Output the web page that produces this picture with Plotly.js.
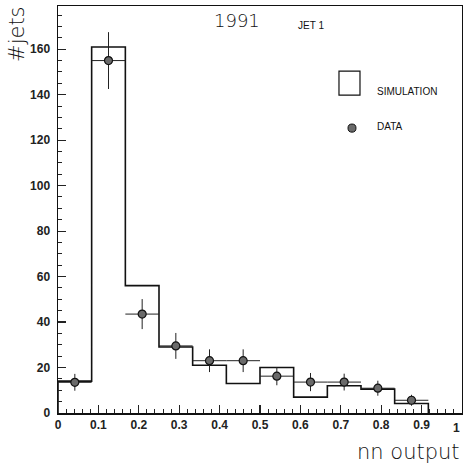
<!DOCTYPE html>
<html>
<head>
<meta charset="utf-8">
<script src="https://cdn.plot.ly/plotly-3.0.1.min.js"></script>
<style>html,body{margin:0;padding:0;background:#fff;}</style>
</head>
<body>
<div id="chart" style="width:463px;height:466px;"></div>
<script>
// Bin edges of the nn output histogram (width 1/12)
const binEdges = [0, 0.0833, 0.1667, 0.25, 0.3333, 0.4167, 0.5, 0.5833, 0.6667, 0.75, 0.8333, 0.9167];
// Simulation counts per bin
const simCounts = [14, 161, 56, 29, 21, 13, 20, 7, 12, 10.5, 4.2];
// Data counts per bin and their errors
const dataCounts = [13.5, 155, 43.5, 29.5, 23, 23, 16.2, 13.6, 13.6, 10.9, 5.6];
const dataErr = [3.7, 12.5, 6.6, 5.7, 5, 5, 4, 4, 3.7, 3.3, 2.4];
const xTickVals = [0, 0.1, 0.2, 0.3, 0.4, 0.5, 0.6, 0.7, 0.8, 0.9];
const xTickText = ["0", "0.1", "0.2", "0.3", "0.4", "0.5", "0.6", "0.7", "0.8", "0.9"];
const yTickVals = [0, 20, 40, 60, 80, 100, 120, 140, 160];

// step outline
const stepX = [binEdges[0]].concat(binEdges);
const stepY = [0].concat(simCounts).concat([0]);
const centers = simCounts.map((_, i) => (binEdges[i] + binEdges[i + 1]) / 2);
const halfW = simCounts.map((_, i) => (binEdges[i + 1] - binEdges[i]) / 2);

const traces = [
  {
    x: stepX, y: stepY, type: 'scatter', mode: 'lines',
    line: {shape: 'hv', color: '#111', width: 1.6},
    hoverinfo: 'skip', showlegend: false, cliponaxis: false
  },
  {
    x: centers, y: dataCounts, type: 'scatter', mode: 'markers',
    marker: {symbol: 'circle', size: 8, color: '#6a6a6a', line: {color: '#111', width: 1.2}},
    error_y: {type: 'data', array: dataErr, visible: true, color: '#222', thickness: 1, width: 0},
    error_x: {type: 'data', array: halfW, visible: true, color: '#222', thickness: 1, width: 0},
    showlegend: false
  }
];

const tickFont = {family: 'Liberation Sans, Arial, sans-serif', size: 12, color: '#222', weight: 'bold'};

const layout = {
  width: 463, height: 466,
  margin: {l: 58, r: 1, t: 6, b: 53},
  paper_bgcolor: '#fff', plot_bgcolor: '#fff',
  showlegend: false,
  xaxis: {
    range: [0, 1], showgrid: false, zeroline: false,
    showline: true, linecolor: '#111', linewidth: 1.5, mirror: true,
    ticks: 'inside', ticklen: 8, tickwidth: 1.2, tickcolor: '#222',
    tickvals: xTickVals, ticktext: xTickText, tickfont: tickFont, ticklabelstandoff: 0,
    minor: {dtick: 0.02, ticks: 'inside', ticklen: 4, tickwidth: 1, tickcolor: '#222', showgrid: false}
  },
  yaxis: {
    range: [0, 179], showgrid: false, zeroline: false,
    showline: true, linecolor: '#111', linewidth: 1.5, mirror: true,
    ticks: 'inside', ticklen: 8, tickwidth: 1.2, tickcolor: '#222',
    tickvals: yTickVals, tickfont: tickFont, ticklabelstandoff: 4,
    minor: {dtick: 5, ticks: 'inside', ticklen: 4, tickwidth: 1, tickcolor: '#222', showgrid: false}
  },
  shapes: [
    {type: 'rect', xref: 'paper', yref: 'paper', x0: 0.6955, x1: 0.7475, y0: 0.781, y1: 0.840,
     line: {color: '#111', width: 1.2}, fillcolor: 'rgba(0,0,0,0)'},
    {type: 'circle', xref: 'paper', yref: 'paper', x0: 0.7178, x1: 0.7376, y0: 0.690, y1: 0.710,
     line: {color: '#111', width: 1}, fillcolor: '#6a6a6a'}
  ],
  annotations: [
    {text: '1', xref: 'x', yref: 'paper', x: 1, y: -0.038, xanchor: 'right', yanchor: 'middle',
     showarrow: false, font: tickFont},
    {text: '1991', xref: 'paper', yref: 'paper', x: 0.4436, y: 0.9645, xanchor: 'center', yanchor: 'middle',
     showarrow: false, font: {family: 'DejaVu Sans, sans-serif', size: 18, color: '#111', weight: 300}},
    {text: 'JET 1', xref: 'paper', yref: 'paper', x: 0.626, y: 0.952, xanchor: 'center', yanchor: 'middle',
     showarrow: false, font: {family: 'Liberation Sans, Arial, sans-serif', size: 10, color: '#111'}},
    {text: 'SIMULATION', xref: 'paper', yref: 'paper', x: 0.7855, y: 0.791, xanchor: 'left', yanchor: 'middle',
     showarrow: false, font: {family: 'Liberation Sans, Arial, sans-serif', size: 10, color: '#111'}},
    {text: 'DATA', xref: 'paper', yref: 'paper', x: 0.7855, y: 0.703, xanchor: 'left', yanchor: 'middle',
     showarrow: false, font: {family: 'Liberation Sans, Arial, sans-serif', size: 10, color: '#111'}},
    {text: '#jets', xref: 'paper', yref: 'paper', x: -0.1015, y: 1.005, xanchor: 'center', yanchor: 'top',
     textangle: -90, showarrow: false, font: {family: 'DejaVu Sans, sans-serif', size: 21, color: '#111', weight: 300}},
    {text: 'nn output', xref: 'paper', yref: 'paper', x: 1.0, y: -0.062, xanchor: 'right', yanchor: 'top',
     showarrow: false, font: {family: 'DejaVu Sans, sans-serif', size: 21, color: '#111', weight: 300}}
  ]
};

Plotly.newPlot('chart', traces, layout, {displayModeBar: false, staticPlot: true});
</script>
</body>
</html>
